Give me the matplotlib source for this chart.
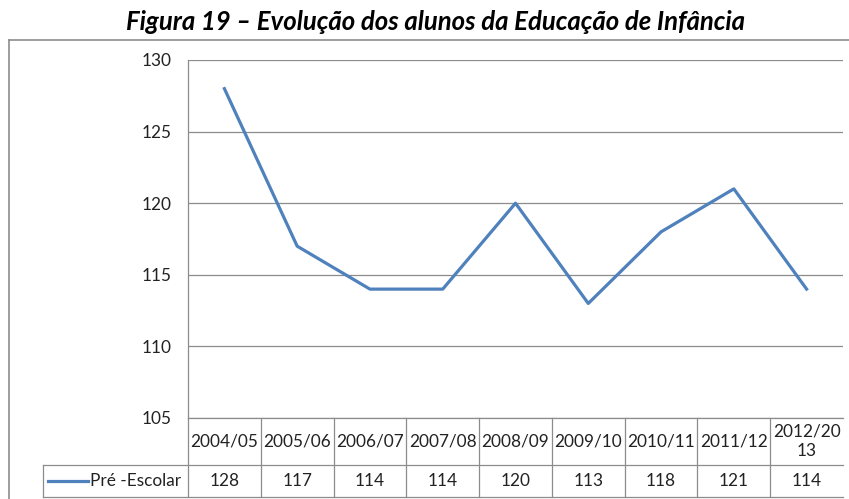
import matplotlib
matplotlib.use("Agg")
import matplotlib.pyplot as plt
import matplotlib.transforms as mtransforms
from matplotlib.lines import Line2D

plt.rcParams['font.family'] = ['Lato', 'DejaVu Sans']

anos = ["2004/05", "2005/06", "2006/07", "2007/08", "2008/09",
        "2009/10", "2010/11", "2011/12", "2012/20\n13"]
pre_escolar = [128, 117, 114, 114, 120, 113, 118, 121, 114]
serie_nome = "Pré -Escolar"
titulo = "Figura 19 – Evolução dos alunos da Educação de Infância"

W, H = 849, 499
AZUL = "#4F81BD"
CINZA = "#8C8C8C"
FS = 12.4

fig = plt.figure(figsize=(W / 100, H / 100), dpi=100)

# plot area in pixels: left 188, top 60, right 843, bottom 418
L, T, R, B = 188, 60, 843, 418
ax = fig.add_axes([L / W, 1 - B / H, (R - L) / W, (B - T) / H])

x = list(range(len(anos)))
ax.plot(x, pre_escolar, color=AZUL, lw=2.3, solid_joinstyle='round')

ax.set_xlim(-0.5, len(anos) - 0.5)
ax.set_ylim(105, 130)
ax.set_yticks(range(105, 131, 5))
ax.set_xticks([])
ax.yaxis.grid(True, color=CINZA, lw=0.9)
ax.set_axisbelow(True)
ax.tick_params(axis='y', length=0, pad=12, labelsize=FS, labelcolor="#222222")
for s in ["top", "right", "bottom"]:
    ax.spines[s].set_visible(False)
ax.spines["left"].set_color(CINZA)
ax.spines["left"].set_linewidth(0.9)

# data table below the axes
trans = mtransforms.blended_transform_factory(ax.transData, ax.transAxes)
h1 = 47 / (B - T)
h2 = 32 / (B - T)
col_w = (R - L) / len(anos)
x_leg = -0.5 - (L - 43) / col_w

def hline(x0, x1, y):
    ax.add_line(Line2D([x0, x1], [y, y], transform=trans, color=CINZA,
                       lw=0.9, clip_on=False))

def vline(xv, y0, y1):
    ax.add_line(Line2D([xv, xv], [y0, y1], transform=trans, color=CINZA,
                       lw=0.9, clip_on=False))

hline(-0.5, len(anos) - 0.5, 0)
hline(x_leg, len(anos) - 0.5, -h1)
hline(x_leg, len(anos) - 0.5, -h1 - h2)
vline(x_leg, -h1, -h1 - h2)
for i in range(len(anos)):
    vline(i - 0.5, 0, -h1 - h2)

for i, (a, v) in enumerate(zip(anos, pre_escolar)):
    ax.text(i, -h1 / 2, a, transform=trans, ha="center", va="center",
            fontsize=FS, color="#222222", linespacing=1.3)
    ax.text(i, -h1 - h2 / 2, str(v), transform=trans, ha="center",
            va="center", fontsize=FS, color="#222222")

# legend key in the table
x_key0 = x_leg + 5 / col_w
x_key1 = x_leg + 45 / col_w
ax.add_line(Line2D([x_key0, x_key1], [-h1 - h2 / 2] * 2, transform=trans,
                   color=AZUL, lw=2.3, clip_on=False))
ax.text(x_key1 + 2 / col_w, -h1 - h2 / 2, serie_nome, transform=trans,
        ha="left", va="center", fontsize=FS, color="#222222")

# outer chart border
fig.add_artist(Line2D([9 / W, 9 / W], [0, 1 - 40 / H], transform=fig.transFigure,
                      color=CINZA, lw=1.2))
fig.add_artist(Line2D([9 / W, 1], [1 - 40 / H, 1 - 40 / H],
                      transform=fig.transFigure, color=CINZA, lw=1.2))

fig.text(436 / W, 1 - 22 / H, titulo, ha="center", va="center",
         fontsize=18.5, fontweight="bold", fontstyle="italic", color="black")

fig.savefig("out.png", dpi=100)
